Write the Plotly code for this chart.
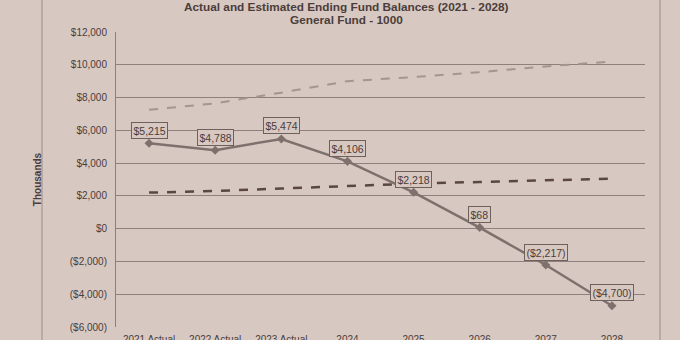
import plotly.graph_objects as go

# Fiscal years shown on the category axis
years = ["2021 Actual", "2022 Actual", "2023 Actual", "2024", "2025", "2026", "2027", "2028"]

# Ending fund balance (thousands)
ending_balance = [5215, 4788, 5474, 4106, 2218, 68, -2217, -4700]

# Reference levels drawn as dashed lines (thousands)
upper_reference = [7250, 7650, 8300, 9000, 9250, 9550, 9900, 10200]
lower_reference = [2200, 2300, 2450, 2600, 2750, 2850, 2950, 3050]

# Y-axis ticks
tick_vals = [12000, 10000, 8000, 6000, 4000, 2000, 0, -2000, -4000, -6000]


def money(v):
    s = "${:,.0f}".format(abs(v))
    return "({})".format(s) if v < 0 else s


tick_text = [money(v) for v in tick_vals]

PAPER = "#d8c8c2"
INK = "#4a3d3a"
GRID = "#8e817d"
FONT = "Liberation Sans, Arial, sans-serif"

fig = go.Figure()

fig.add_trace(go.Scatter(
    x=years, y=upper_reference, mode="lines",
    line=dict(color="#a3968f", width=2, dash="dash"),
    hoverinfo="skip", showlegend=False,
))
fig.add_trace(go.Scatter(
    x=years, y=lower_reference, mode="lines",
    line=dict(color="#5b4642", width=2.5, dash="dash"),
    hoverinfo="skip", showlegend=False,
))
fig.add_trace(go.Scatter(
    x=years, y=ending_balance, mode="lines+markers",
    line=dict(color="#7e716d", width=2.5),
    marker=dict(symbol="diamond", size=7, color="#7e716d"),
    showlegend=False,
))

# Boxed value labels above each balance point (category index positions)
for i, v in enumerate(ending_balance):
    fig.add_annotation(
        x=i, y=v, text=money(v), showarrow=False, yshift=13,
        font=dict(family=FONT, size=10.5, color=INK),
        bgcolor=PAPER, bordercolor="#6e615d", borderwidth=1, borderpad=1.5,
    )

# Title lines
fig.add_annotation(
    xref="paper", yref="paper", x=0.435, y=1.0, yshift=25, yanchor="middle",
    text="<b>Actual and Estimated Ending Fund Balances (2021 - 2028)</b>",
    showarrow=False,
    font=dict(family=FONT, size=11.8, color=INK),
)
fig.add_annotation(
    xref="paper", yref="paper", x=0.435, y=1.0, yshift=12, yanchor="middle",
    text="<b>General Fund - 1000</b>",
    showarrow=False,
    font=dict(family=FONT, size=11.8, color=INK),
)

# Page edges of the printed sheet
for xp in (42, 660):
    fig.add_shape(type="line", xref="paper", yref="paper",
                  x0=(xp - 116) / 529, x1=(xp - 116) / 529, y0=-0.2, y1=1.2,
                  line=dict(color="#9a8c88", width=1))

fig.update_layout(
    width=680, height=340,
    margin=dict(l=116, r=35, t=32, b=13),
    paper_bgcolor=PAPER, plot_bgcolor=PAPER,
    font=dict(family=FONT, size=10, color=INK),
    xaxis=dict(
        type="category", range=[-0.5, 7.5], showgrid=False, zeroline=False,
        showline=False, ticks="", automargin=False, ticklabelstandoff=5,
        tickfont=dict(size=10, color=INK),
    ),
    yaxis=dict(
        range=[-6000, 12000], tickvals=tick_vals, ticktext=tick_text,
        showgrid=True, gridcolor=GRID, gridwidth=1,
        zeroline=False, showline=True, linecolor=GRID, linewidth=1,
        ticks="", ticklabelstandoff=6, automargin=False,
        tickfont=dict(size=10, color=INK),
        title=dict(text="<b>Thousands</b>", standoff=26,
                   font=dict(size=10, color=INK)),
    ),
)

fig.write_html("out.html")
